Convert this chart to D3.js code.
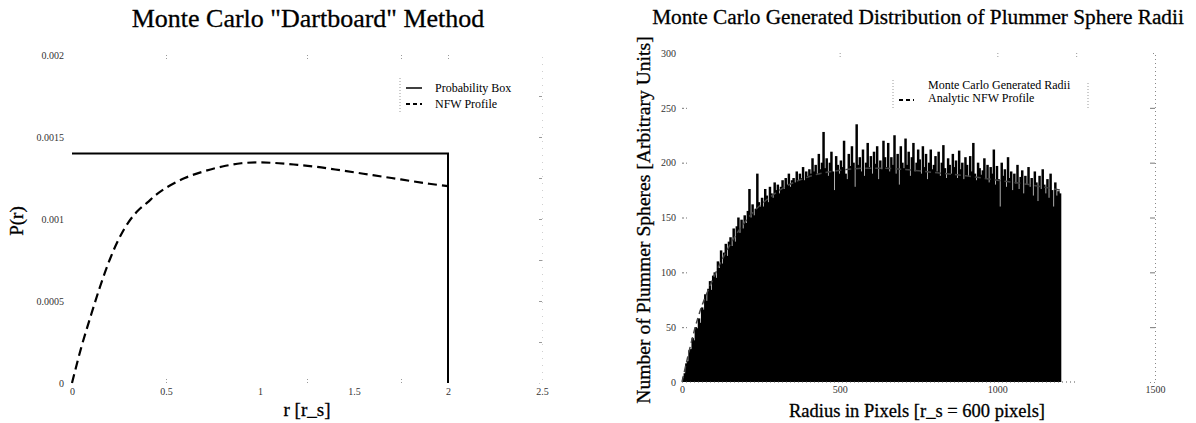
<!DOCTYPE html>
<html><head><meta charset="utf-8">
<script src="https://cdn.jsdelivr.net/npm/d3@7"></script>
<style>
html,body{margin:0;padding:0;background:#fff;}
svg{display:block;font-family:"Liberation Serif","Times New Roman",serif;}
</style></head>
<body>
<svg id="c" width="1196" height="423"></svg>
<script>
// ---------- Left panel data ----------
const leftTitle = 'Monte Carlo "Dartboard" Method';
const leftXLabel = "r [r_s]";
const leftYLabel = "P(r)";
const leftXTicks = [0, 0.5, 1, 1.5, 2, 2.5];
const leftXTickLabels = ["0", "0.5", "1", "1.5", "2", "2.5"];
const leftYTicks = [0, 0.0005, 0.001, 0.0015, 0.002];
const leftYTickLabels = ["0", "0.0005", "0.001", "0.0015", "0.002"];
const boxR = [0, 2, 2];
const boxP = [0.0014, 0.0014, 0];
const nfwR = [0,0.05,0.1,0.15,0.2,0.25,0.3,0.35,0.4,0.45,0.5,0.6,0.7,0.8,0.9,1.0,1.1,1.2,1.3,1.4,1.5,1.6,1.7,1.8,1.9,2.0];
const nfwP = [0,0.00022,0.00041,0.00059,0.00075,0.00088,0.00098,0.00105,0.00110,0.00115,0.00119,0.00125,0.00129,0.00132,0.001340,0.001345,0.001340,0.00133,0.001318,0.001302,0.001285,0.001267,0.00125,0.001232,0.001215,0.00120];
const leftLegend = ["Probability Box", "NFW Profile"];

// ---------- Right panel data ----------
const rightTitle = "Monte Carlo Generated Distribution of Plummer Sphere Radii";
const rightXLabel = "Radius in Pixels [r_s = 600 pixels]";
const rightYLabel = "Number of Plummer Spheres [Arbitrary Units]";
const rightXTicks = [0, 500, 1000, 1500];
const rightYTicks = [0, 50, 100, 150, 200, 250, 300];
const binWidth = 5;
const histCounts = [
 4,8,17,19,29,30,40,38,50,49,
 58,54,68,66,80,74,85,92,84,97,
 100,95,110,104,120,108,118,126,115,128,
 132,124,140,128,142,150,136,148,140,152,
 145,156,176,150,162,152,158,190,164,160,
 168,160,176,170,164,178,172,168,182,175,
 180,172,178,184,176,186,180,190,178,184,
 186,182,192,184,190,186,196,184,192,188,
 194,190,204,192,198,190,208,194,200,228,
 195,204,188,200,210,192,175,206,198,190,
 202,196,220,190,185,208,197,215,200,178,
 235,198,205,192,212,188,200,218,196,206,
 190,210,199,215,185,202,194,220,205,196,
 218,192,205,198,225,190,208,180,215,200,
 195,222,198,210,188,205,218,192,200,212,
 203,190,215,196,208,185,200,212,194,198,
 206,192,210,188,200,216,195,186,204,198,
 190,208,196,202,186,211,194,200,185,205,
 198,187,206,192,218,190,184,200,195,189,
 193,204,186,198,182,196,190,212,180,197,
 185,160,200,188,194,178,205,186,192,175,
 190,181,198,176,187,193,172,188,180,196,
 178,186,170,192,182,165,188,176,194,180,
 172,185,168,190,175,160,182,170,174,172
];
const analyticR = [0,50,100,150,200,300,400,500,600,700,800,900,1000,1100,1200];
const analyticN = [0,58,95,124,146,173,187,193,195,194,191,188,184,180,175];
const rightLegend = ["Monte Carlo Generated Radii", "Analytic NFW Profile"];

const svg = d3.select("#c");
const faint = "#9a9a9a";

// ================= LEFT PANEL =================
const xL = d3.scaleLinear().domain([0, 2.5]).range([72, 542]);
const yL = d3.scaleLinear().domain([0, 0.002]).range([383, 55]);

svg.append("g").attr("transform", `translate(0,${yL(0.002)})`)
  .call(d3.axisTop(xL).tickValues([0.5,1.25,1.75,2]).tickSize(-6).tickFormat(""))
  .call(g => { g.select(".domain").remove(); g.selectAll("line").attr("stroke", faint).attr("stroke-dasharray","1,2"); });
svg.append("g").attr("transform", `translate(${xL(2.5)},0)`)
  .call(d3.axisRight(yL).tickValues([0.00025,0.0005,0.00075,0.001,0.00125,0.0015,0.00175]).tickSize(-3).tickFormat(""))
  .call(g => { g.select(".domain").attr("stroke", "#cfcfcf").attr("stroke-dasharray","1,6"); g.selectAll("line").attr("stroke", faint); });

const gxL = svg.append("g").attr("transform", `translate(0,${yL(0)})`)
  .call(d3.axisBottom(xL).tickValues(leftXTicks).tickSize(0).tickPadding(5)
    .tickFormat((d,i) => leftXTickLabels[i]));
gxL.select(".domain").remove();
gxL.selectAll("text").attr("font-size", 10).attr("fill", "#333").attr("font-family", "Liberation Serif");
svg.append("g").attr("transform", `translate(0,${yL(0)})`)
  .call(d3.axisTop(xL).tickValues([0.5,1.25,1.75]).tickSize(6).tickFormat(""))
  .call(g => { g.select(".domain").remove(); g.selectAll("line").attr("stroke", faint).attr("stroke-dasharray","1,2"); });

const gyL = svg.append("g").attr("transform", `translate(${xL(0)},0)`)
  .call(d3.axisLeft(yL).tickValues(leftYTicks).tickSize(0).tickPadding(8)
    .tickFormat((d,i) => leftYTickLabels[i]));
gyL.select(".domain").remove();
gyL.selectAll("text").attr("font-size", 10).attr("fill", "#333").attr("font-family", "Liberation Serif");

const boxData = boxR.map((r,i) => [r, boxP[i]]);
svg.append("path").datum(boxData)
  .attr("d", d3.line().x(d => xL(d[0])).y(d => yL(d[1])))
  .attr("fill", "none").attr("stroke", "#000").attr("stroke-width", 2);
const nfwData = nfwR.map((r,i) => [r, nfwP[i]]);
svg.append("path").datum(nfwData)
  .attr("d", d3.line().curve(d3.curveCatmullRom).x(d => xL(d[0])).y(d => yL(d[1])))
  .attr("fill", "none").attr("stroke", "#000").attr("stroke-width", 2.2).attr("stroke-dasharray", "9,5");

const lgL = svg.append("g");
lgL.append("line").attr("x1", 400).attr("x2", 400).attr("y1", 78).attr("y2", 113)
  .attr("stroke", faint).attr("stroke-dasharray", "1,2");
lgL.append("line").attr("x1", 406).attr("x2", 422).attr("y1", 88).attr("y2", 88).attr("stroke", "#000").attr("stroke-width", 1.5);
lgL.append("line").attr("x1", 406).attr("x2", 422).attr("y1", 104).attr("y2", 104).attr("stroke", "#000").attr("stroke-width", 1.8).attr("stroke-dasharray", "4,3");
leftLegend.forEach((t,i) => lgL.append("text").attr("x", 435).attr("y", 92 + i*16).attr("font-size", 12).text(t));

svg.append("text").attr("x", 308).attr("y", 27).attr("text-anchor", "middle").attr("font-size", 26)
  .attr("stroke", "#000").attr("stroke-width", 0.3).text(leftTitle);
svg.append("text").attr("x", 307).attr("y", 416).attr("text-anchor", "middle").attr("font-size", 19)
  .attr("stroke", "#000").attr("stroke-width", 0.3).text(leftXLabel);
svg.append("text").attr("transform", "translate(23,221) rotate(-90)").attr("text-anchor", "middle").attr("font-size", 19)
  .attr("stroke", "#000").attr("stroke-width", 0.3).text(leftYLabel);

// ================= RIGHT PANEL =================
const xR = d3.scaleLinear().domain([0, 1500]).range([682, 1155]);
const yR = d3.scaleLinear().domain([0, 300]).range([382, 53]);

svg.append("g").attr("transform", `translate(0,${yR(300)})`)
  .call(d3.axisTop(xR).tickValues([500, 1000, 1250]).tickSize(-6).tickFormat(""))
  .call(g => { g.select(".domain").remove(); g.selectAll("line").attr("stroke", faint).attr("stroke-dasharray","1,2"); });
svg.append("g").attr("transform", `translate(${xR(1500)},0)`)
  .call(d3.axisRight(yR).tickValues([50,100,150,200,250]).tickSize(-5).tickFormat(""))
  .call(g => { g.select(".domain").attr("stroke", "#888").attr("stroke-dasharray","1,3"); g.selectAll("line").attr("stroke", "#777"); });

const bins = histCounts.map((c,i) => ({x0: i*binWidth, x1: (i+1)*binWidth, c}));
svg.append("g").selectAll("rect").data(bins).join("rect")
  .attr("x", d => xR(d.x0)).attr("width", d => xR(d.x1) - xR(d.x0) + 0.9)
  .attr("y", d => yR(d.c)).attr("height", d => yR(0) - yR(d.c))
  .attr("fill", "#000");

const anData = analyticR.map((r,i) => [r, analyticN[i]]);
svg.append("path").datum(anData)
  .attr("d", d3.line().curve(d3.curveMonotoneX).x(d => xR(d[0])).y(d => yR(d[1])))
  .attr("fill", "none").attr("stroke", "#444").attr("stroke-width", 1.5).attr("stroke-dasharray", "6,4");

const gxR = svg.append("g").attr("transform", `translate(0,${yR(0)})`)
  .call(d3.axisBottom(xR).tickValues(rightXTicks).tickSize(0).tickPadding(4).tickFormat(d3.format("d")));
gxR.select(".domain").remove();
gxR.selectAll("text").attr("font-size", 10).attr("fill", "#333").attr("font-family", "Liberation Serif");
svg.append("line").attr("x1", xR(0)).attr("x2", xR(1250)).attr("y1", yR(0)).attr("y2", yR(0))
  .attr("stroke", "#555").attr("stroke-dasharray", "1,3");

const gyR = svg.append("g").attr("transform", `translate(${xR(0)},0)`)
  .call(d3.axisLeft(yR).tickValues(rightYTicks).tickSize(0).tickPadding(6).tickFormat(d3.format("d")));
gyR.select(".domain").remove();
gyR.selectAll("text").attr("font-size", 10).attr("fill", "#333").attr("font-family", "Liberation Serif");
svg.append("g").attr("transform", `translate(${xR(0)},0)`)
  .call(d3.axisRight(yR).tickValues([50,100,150,200,250]).tickSize(5).tickFormat(""))
  .call(g => { g.select(".domain").remove(); g.selectAll("line").attr("stroke", "#777").attr("stroke-dasharray","2,2"); });

const lgR = svg.append("g");
lgR.append("line").attr("x1", 893).attr("x2", 893).attr("y1", 80).attr("y2", 108).attr("stroke", faint).attr("stroke-dasharray", "1,2");
lgR.append("line").attr("x1", 1088).attr("x2", 1088).attr("y1", 83).attr("y2", 110).attr("stroke", faint).attr("stroke-dasharray", "1,2");
lgR.append("line").attr("x1", 899).attr("x2", 914).attr("y1", 100).attr("y2", 100).attr("stroke", "#000").attr("stroke-width", 1.8).attr("stroke-dasharray", "4,3");
rightLegend.forEach((t,i) => lgR.append("text").attr("x", 928).attr("y", 89 + i*13).attr("font-size", 12).text(t));

svg.append("text").attr("x", 918).attr("y", 24).attr("text-anchor", "middle").attr("font-size", 21.3)
  .attr("stroke", "#000").attr("stroke-width", 0.3).text(rightTitle);
svg.append("text").attr("x", 917).attr("y", 417).attr("text-anchor", "middle").attr("font-size", 18.5)
  .attr("stroke", "#000").attr("stroke-width", 0.3).text(rightXLabel);
svg.append("text").attr("transform", "translate(650,220) rotate(-90)").attr("text-anchor", "middle").attr("font-size", 19.6)
  .attr("stroke", "#000").attr("stroke-width", 0.3).text(rightYLabel);
</script>
</body></html>
